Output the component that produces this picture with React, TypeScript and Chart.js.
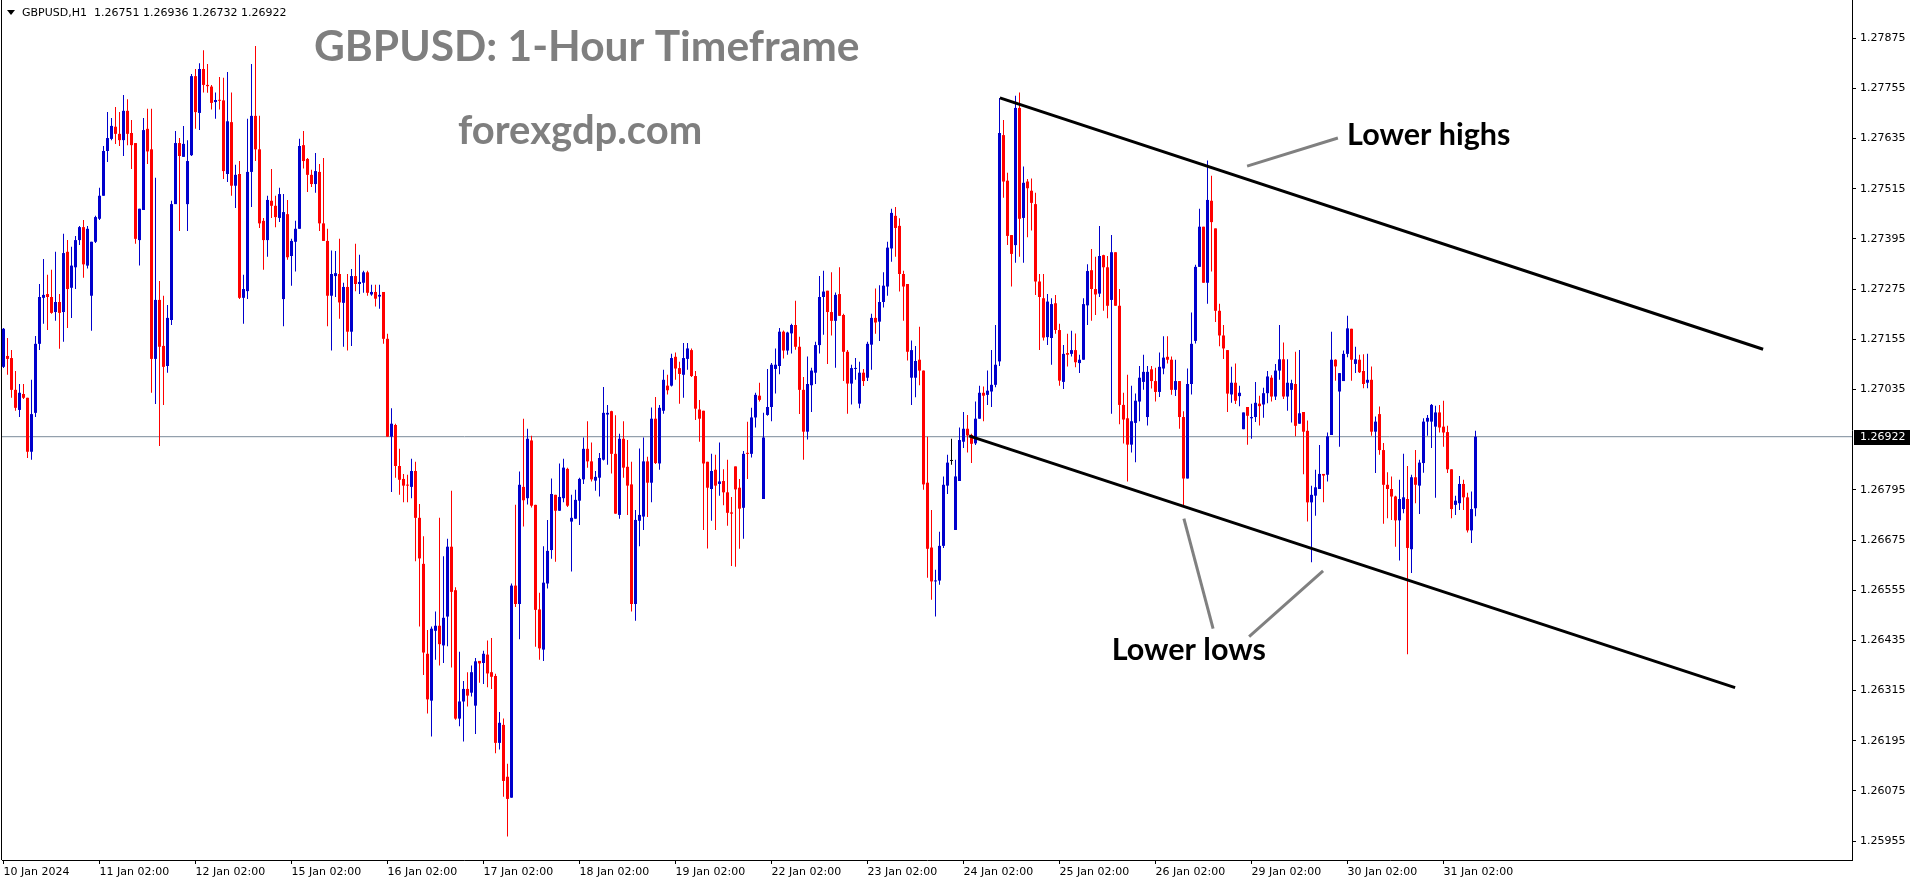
import React, { useEffect, useRef } from "react";
import { Chart, registerables } from "chart.js";

Chart.register(...registerables);

// ---- H1 candles, 10 Jan 2024 02:00 .. 31 Jan 2024 10:00 (bar index 0..368) ----
const opens = [
  1.27089,1.27115,1.27110,1.27034,1.26986,1.27024,1.27015,1.26886,1.26979,1.27144,
  1.27254,1.27263,1.27256,1.27220,1.27244,1.27220,1.27364,1.27278,1.27327,1.27392,
  1.27423,1.27331,1.27259,1.27388,1.27443,1.27498,1.27605,1.27634,1.27663,1.27646,
  1.27631,1.27701,1.27648,1.27624,1.27392,1.27464,1.27658,1.27609,1.27108,1.27249,
  1.27139,1.27091,1.27201,1.27478,1.27624,1.27591,1.27478,1.27595,1.27784,1.27696,
  1.27801,1.27763,1.27759,1.27722,1.27727,1.27726,1.27550,1.27674,1.27522,1.27550,
  1.27254,1.27270,1.27555,1.27689,1.27609,1.27438,1.27392,1.27486,1.27474,1.27445,
  1.27251,1.27454,1.27354,1.27388,1.27419,1.27619,1.27586,1.27548,1.27526,1.27555,
  1.27432,1.27390,1.27259,1.27306,1.27311,1.27242,1.27280,1.27173,1.27306,1.27287,
  1.27290,1.27315,1.27262,1.27268,1.27257,1.27268,1.27156,1.26922,1.26950,1.26852,
  1.26821,1.26807,1.26802,1.26840,1.26728,1.26618,1.26403,1.26291,1.26458,1.26470,
  1.26423,1.26492,1.26659,1.26555,1.26248,1.26289,1.26319,1.26310,1.26279,1.26386,
  1.26381,1.26401,1.26359,1.26350,1.26190,1.26233,1.26109,1.26059,1.26566,1.26522,
  1.26802,1.26775,1.26913,1.26759,1.26509,1.26413,1.26571,1.26651,1.26783,1.26745,
  1.26775,1.26845,1.26719,1.26726,1.26769,1.26820,1.26893,1.26863,1.26817,1.26824,
  1.26867,1.26975,1.26983,1.26881,1.26735,1.26917,1.26850,1.26808,1.26522,1.26721,
  1.26731,1.26863,1.26812,1.26965,1.26858,1.26984,1.27044,1.27044,1.27113,1.27086,
  1.27070,1.27108,1.27129,1.27067,1.26987,1.26984,1.26862,1.26797,1.26843,1.26809,
  1.26816,1.26789,1.26741,1.26851,1.26800,1.26752,1.26883,1.26881,1.26968,1.27020,
  1.26773,1.26974,1.26993,1.27084,1.27091,1.27173,1.27128,1.27169,1.27189,1.27137,
  1.27034,1.26934,1.27045,1.27075,1.27141,1.27256,1.27271,1.27220,1.27199,1.27263,
  1.27213,1.27125,1.27049,1.27084,1.27001,1.27075,1.27063,1.27142,1.27206,1.27197,
  1.27244,1.27281,1.27372,1.27450,1.27426,1.27311,1.27287,1.27063,1.27063,1.27106,
  1.27080,1.26812,1.26657,1.26576,1.26578,1.26661,1.26805,1.26864,1.26699,1.26816,
  1.26910,1.26941,1.26926,1.26906,1.26965,1.27027,1.27022,1.27030,1.27046,1.27102,
  1.27643,1.27534,1.27404,1.27380,1.27708,1.27445,1.27532,1.27510,1.27478,1.27293,
  1.27253,1.27160,1.27158,1.27241,1.27177,1.27053,1.27122,1.27120,1.27129,1.27098,
  1.27106,1.27236,1.27320,1.27275,1.27264,1.27356,1.27327,1.27249,1.27363,1.27235,
  1.26998,1.26966,1.26903,1.26955,1.27006,1.27053,1.26969,1.27083,1.27055,1.27029,
  1.27085,1.27113,1.27106,1.27034,1.27055,1.26969,1.26822,1.27048,1.27151,1.27328,
  1.27424,1.27290,1.27486,1.27420,1.27223,1.27164,1.27129,1.27023,1.27051,1.27019,
  1.26940,1.26993,1.26966,1.26969,1.27001,1.26999,1.27026,1.27063,1.27018,1.27080,
  1.27107,1.27018,1.27034,1.27048,1.26953,1.26981,1.26936,1.26765,1.26781,1.26797,
  1.26833,1.26831,1.26926,1.27106,1.27030,1.27055,1.27120,1.27180,1.27096,1.27106,
  1.27079,1.27051,1.27058,1.26934,1.26976,1.26890,1.26807,1.26797,1.26779,1.26722,
  1.26749,1.26773,1.26653,1.26825,1.26805,1.26859,1.26958,1.26958,1.26946,1.26980,
  1.26946,1.26933,1.26844,1.26759,1.26763,1.26809,1.26777,1.26698,1.26751,
];

const highs = [
  1.27182,1.27158,1.27129,1.27079,1.27048,1.27048,1.27015,1.27058,1.27163,1.27287,
  1.27347,1.27309,1.27321,1.27364,1.27263,1.27407,1.27392,1.27376,1.27402,1.27426,
  1.27440,1.27426,1.27388,1.27450,1.27517,1.27617,1.27698,1.27684,1.27710,1.27698,
  1.27739,1.27729,1.27679,1.27624,1.27467,1.27684,1.27706,1.27706,1.27541,1.27294,
  1.27259,1.27237,1.27486,1.27653,1.27636,1.27665,1.27631,1.27789,1.27801,1.27815,
  1.27846,1.27813,1.27763,1.27745,1.27782,1.27780,1.27794,1.27745,1.27572,1.27581,
  1.27309,1.27682,1.27813,1.27856,1.27689,1.27445,1.27498,1.27562,1.27498,1.27517,
  1.27502,1.27488,1.27395,1.27438,1.27634,1.27653,1.27588,1.27560,1.27600,1.27574,
  1.27588,1.27419,1.27367,1.27366,1.27395,1.27290,1.27311,1.27323,1.27383,1.27357,
  1.27319,1.27319,1.27285,1.27285,1.27285,1.27268,1.27168,1.26990,1.26953,1.26893,
  1.26833,1.26831,1.26869,1.26862,1.26761,1.26684,1.26460,1.26468,1.26504,1.26728,
  1.26636,1.26678,1.26793,1.26562,1.26408,1.26338,1.26359,1.26375,1.26393,1.26386,
  1.26410,1.26435,1.26441,1.26355,1.26264,1.26248,1.26140,1.26571,1.26759,1.26839,
  1.26965,1.26941,1.26924,1.26759,1.26549,1.26660,1.26723,1.26822,1.26783,1.26858,
  1.26869,1.26848,1.26783,1.26795,1.26824,1.26920,1.26959,1.26908,1.26840,1.26883,
  1.27041,1.26998,1.26984,1.26973,1.26929,1.26959,1.26914,1.26862,1.26747,1.26894,
  1.26920,1.26874,1.26992,1.27017,1.26998,1.27082,1.27070,1.27120,1.27123,1.27101,
  1.27146,1.27146,1.27133,1.27079,1.27010,1.26984,1.26862,1.26881,1.26879,1.26908,
  1.26844,1.26867,1.26778,1.26851,1.26821,1.26888,1.26958,1.26991,1.27027,1.27051,
  1.26979,1.27084,1.27098,1.27133,1.27182,1.27176,1.27173,1.27192,1.27247,1.27161,
  1.27065,1.27114,1.27087,1.27149,1.27306,1.27319,1.27271,1.27315,1.27267,1.27327,
  1.27216,1.27129,1.27094,1.27110,1.27101,1.27084,1.27149,1.27216,1.27276,1.27284,
  1.27315,1.27388,1.27467,1.27471,1.27444,1.27319,1.27287,1.27152,1.27139,1.27185,
  1.27080,1.26922,1.26747,1.26604,1.26695,1.26827,1.26879,1.26917,1.26867,1.26944,
  1.26981,1.26974,1.26929,1.27006,1.27044,1.27042,1.27080,1.27129,1.27189,1.27732,
  1.27679,1.27553,1.27404,1.27737,1.27745,1.27568,1.27538,1.27539,1.27505,1.27311,
  1.27311,1.27263,1.27253,1.27261,1.27192,1.27141,1.27168,1.27175,1.27169,1.27118,
  1.27253,1.27334,1.27371,1.27352,1.27426,1.27357,1.27354,1.27404,1.27363,1.27275,
  1.27027,1.27070,1.27044,1.27025,1.27091,1.27118,1.27091,1.27091,1.27087,1.27123,
  1.27162,1.27162,1.27114,1.27106,1.27055,1.26983,1.27085,1.27219,1.27333,1.27467,
  1.27424,1.27582,1.27546,1.27420,1.27240,1.27189,1.27129,1.27089,1.27097,1.27044,
  1.26980,1.26993,1.27001,1.27053,1.27020,1.27039,1.27079,1.27069,1.27096,1.27189,
  1.27147,1.27107,1.27058,1.27125,1.27129,1.26981,1.26961,1.26805,1.26843,1.26902,
  1.26833,1.26932,1.27173,1.27107,1.27074,1.27128,1.27211,1.27180,1.27137,1.27118,
  1.27119,1.27120,1.27090,1.26970,1.26994,1.26907,1.26837,1.26827,1.26781,1.26819,
  1.26881,1.26852,1.26831,1.26890,1.26867,1.26966,1.26974,1.27000,1.26996,1.26998,
  1.27008,1.26948,1.26844,1.26781,1.26828,1.26819,1.26788,1.26791,1.26936,
];

const lows = [
  1.27086,1.27070,1.27015,1.26984,1.26969,1.27012,1.26871,1.26867,1.26969,1.27129,
  1.27192,1.27177,1.27216,1.27199,1.27132,1.27149,1.27182,1.27206,1.27275,1.27380,
  1.27302,1.27324,1.27175,1.27385,1.27440,1.27498,1.27579,1.27631,1.27622,1.27617,
  1.27593,1.27619,1.27562,1.27383,1.27331,1.27464,1.27574,1.27027,1.27000,1.26900,
  1.26998,1.27075,1.27189,1.27478,1.27414,1.27591,1.27414,1.27593,1.27658,1.27655,
  1.27745,1.27744,1.27704,1.27682,1.27704,1.27538,1.27531,1.27498,1.27469,1.27251,
  1.27192,1.27251,1.27471,1.27581,1.27421,1.27321,1.27352,1.27445,1.27423,1.27435,
  1.27186,1.27345,1.27283,1.27317,1.27419,1.27563,1.27507,1.27519,1.27505,1.27414,
  1.27390,1.27186,1.27128,1.27256,1.27204,1.27137,1.27128,1.27139,1.27270,1.27263,
  1.27266,1.27259,1.27259,1.27233,1.27228,1.27144,1.26922,1.26790,1.26824,1.26783,
  1.26765,1.26765,1.26775,1.26624,1.26468,1.26352,1.26260,1.26205,1.26389,1.26375,
  1.26381,1.26421,1.26370,1.26245,1.26230,1.26193,1.26277,1.26301,1.26211,1.26334,
  1.26331,1.26323,1.26319,1.26165,1.26174,1.26061,1.25966,1.26059,1.26515,1.26438,
  1.26707,1.26760,1.26753,1.26420,1.26389,1.26386,1.26559,1.26630,1.26623,1.26745,
  1.26765,1.26754,1.26600,1.26726,1.26711,1.26809,1.26848,1.26815,1.26793,1.26779,
  1.26865,1.26855,1.26834,1.26738,1.26726,1.26824,1.26735,1.26504,1.26482,1.26660,
  1.26699,1.26730,1.26765,1.26857,1.26843,1.26977,1.27023,1.27042,1.27058,1.27001,
  1.27015,1.27082,1.27065,1.26962,1.26910,1.26699,1.26655,1.26721,1.26699,1.26781,
  1.26758,1.26709,1.26613,1.26611,1.26654,1.26678,1.26821,1.26872,1.26944,1.27006,
  1.26773,1.26972,1.26959,1.27025,1.27071,1.27109,1.27118,1.27121,1.27130,1.26976,
  1.26867,1.26915,1.26981,1.27048,1.27121,1.27166,1.27096,1.27164,1.27087,1.27211,
  1.27055,1.26977,1.26999,1.27058,1.26990,1.27043,1.27055,1.27082,1.27168,1.27151,
  1.27231,1.27259,1.27340,1.27352,1.27269,1.27199,1.27104,1.26998,1.27016,1.27045,
  1.26795,1.26585,1.26532,1.26492,1.26568,1.26656,1.26785,1.26855,1.26699,1.26816,
  1.26895,1.26884,1.26859,1.26902,1.26965,1.26959,1.26998,1.26993,1.27040,1.27091,
  1.27493,1.27380,1.27281,1.27338,1.27352,1.27338,1.27399,1.27415,1.27261,1.27129,
  1.27152,1.27141,1.27094,1.27168,1.27044,1.27036,1.27090,1.27114,1.27088,1.27074,
  1.27106,1.27189,1.27199,1.27213,1.27256,1.27223,1.27205,1.26977,1.27235,1.26952,
  1.26906,1.26815,1.26884,1.26861,1.26959,1.27034,1.26949,1.27037,1.27006,1.27017,
  1.27071,1.27097,1.27022,1.27019,1.26941,1.26754,1.26822,1.27023,1.27145,1.27328,
  1.27290,1.27240,1.27317,1.27196,1.27138,1.27108,1.26981,1.27003,1.27000,1.26995,
  1.26940,1.26903,1.26917,1.26957,1.26949,1.26967,1.27002,1.27006,1.27010,1.27058,
  1.27012,1.26984,1.26956,1.26923,1.26953,1.26832,1.26719,1.26622,1.26733,1.26797,
  1.26765,1.26815,1.26926,1.27056,1.26898,1.27055,1.27112,1.27056,1.27074,1.27074,
  1.27038,1.27038,1.26924,1.26835,1.26879,1.26714,1.26727,1.26723,1.26659,1.26626,
  1.26739,1.26402,1.26596,1.26763,1.26737,1.26836,1.26924,1.26895,1.26776,1.26932,
  1.26898,1.26835,1.26727,1.26735,1.26747,1.26747,1.26693,1.26668,1.26732,
];

const closes = [
  1.27180,1.27108,1.27034,1.26991,1.27027,1.27015,1.26886,1.26976,1.27144,1.27256,
  1.27261,1.27256,1.27218,1.27244,1.27218,1.27361,1.27275,1.27331,1.27392,1.27423,
  1.27334,1.27419,1.27388,1.27447,1.27498,1.27605,1.27636,1.27665,1.27646,1.27631,
  1.27701,1.27646,1.27619,1.27395,1.27467,1.27655,1.27604,1.27108,1.27249,1.27137,
  1.27089,1.27206,1.27478,1.27624,1.27593,1.27622,1.27581,1.27784,1.27698,1.27801,
  1.27763,1.27760,1.27720,1.27727,1.27725,1.27557,1.27676,1.27522,1.27548,1.27254,
  1.27275,1.27555,1.27689,1.27609,1.27432,1.27392,1.27488,1.27474,1.27447,1.27502,
  1.27459,1.27351,1.27390,1.27419,1.27617,1.27581,1.27548,1.27526,1.27557,1.27432,
  1.27390,1.27259,1.27311,1.27313,1.27243,1.27280,1.27173,1.27306,1.27287,1.27292,
  1.27315,1.27266,1.27268,1.27252,1.27261,1.27156,1.26922,1.26953,1.26852,1.26819,
  1.26805,1.26805,1.26840,1.26728,1.26631,1.26406,1.26294,1.26463,1.26470,1.26426,
  1.26489,1.26659,1.26551,1.26248,1.26289,1.26319,1.26303,1.26359,1.26385,1.26380,
  1.26403,1.26356,1.26348,1.26190,1.26238,1.26099,1.26056,1.26566,1.26522,1.26807,
  1.26770,1.26917,1.26757,1.26508,1.26416,1.26573,1.26649,1.26785,1.26745,1.26778,
  1.26848,1.26757,1.26728,1.26771,1.26821,1.26893,1.26863,1.26820,1.26826,1.26871,
  1.26979,1.26979,1.26881,1.26738,1.26917,1.26848,1.26805,1.26522,1.26723,1.26735,
  1.26863,1.26812,1.26965,1.26859,1.26991,1.27058,1.27033,1.27110,1.27085,1.27072,
  1.27110,1.27133,1.27067,1.26989,1.26965,1.26858,1.26800,1.26840,1.26805,1.26815,
  1.26789,1.26740,1.26738,1.26796,1.26750,1.26881,1.26881,1.26968,1.27022,1.27010,
  1.26920,1.26993,1.27094,1.27094,1.27173,1.27128,1.27171,1.27189,1.27137,1.27034,
  1.26934,1.27048,1.27080,1.27141,1.27256,1.27269,1.27220,1.27199,1.27261,1.27211,
  1.27125,1.27049,1.27086,1.27086,1.27075,1.27055,1.27144,1.27206,1.27195,1.27244,
  1.27283,1.27374,1.27457,1.27421,1.27311,1.27281,1.27125,1.27129,1.27103,1.27080,
  1.26808,1.26654,1.26576,1.26578,1.26661,1.26807,1.26860,1.26864,1.26827,1.26914,
  1.26941,1.26925,1.26905,1.26965,1.27027,1.27020,1.27032,1.27046,1.27094,1.27648,
  1.27532,1.27402,1.27359,1.27708,1.27443,1.27529,1.27516,1.27481,1.27293,1.27256,
  1.27159,1.27245,1.27239,1.27177,1.27056,1.27120,1.27118,1.27129,1.27100,1.27106,
  1.27239,1.27318,1.27275,1.27262,1.27354,1.27327,1.27235,1.27363,1.27235,1.26998,
  1.26963,1.26903,1.26959,1.27008,1.27063,1.27077,1.27077,1.27055,1.27029,1.27089,
  1.27111,1.27106,1.27034,1.27055,1.26969,1.26822,1.27048,1.27144,1.27328,1.27424,
  1.27290,1.27488,1.27435,1.27223,1.27164,1.27133,1.27025,1.27051,1.27008,1.27027,
  1.26980,1.26972,1.26969,1.27003,1.26995,1.27026,1.27066,1.27018,1.27080,1.27107,
  1.27018,1.27051,1.27050,1.26948,1.26978,1.26934,1.26765,1.26783,1.26801,1.26833,
  1.26829,1.26923,1.27106,1.27090,1.27074,1.27120,1.27181,1.27106,1.27107,1.27076,
  1.27048,1.27058,1.26934,1.26958,1.26890,1.26807,1.26797,1.26779,1.26722,1.26773,
  1.26777,1.26656,1.26825,1.26807,1.26860,1.26958,1.26967,1.26998,1.26980,1.26944,
  1.26932,1.26844,1.26749,1.26769,1.26809,1.26777,1.26698,1.26749,1.26922,
];

// ---- axes ----
const xTickIndex = [0, 24, 48, 72, 96, 120, 144, 168, 192, 216, 240, 264, 288, 312, 336, 360];
const xTickLabels = [
  "10 Jan 2024", "11 Jan 02:00", "12 Jan 02:00", "15 Jan 02:00", "16 Jan 02:00", "17 Jan 02:00",
  "18 Jan 02:00", "19 Jan 02:00", "22 Jan 02:00", "23 Jan 02:00", "24 Jan 02:00", "25 Jan 02:00",
  "26 Jan 02:00", "29 Jan 02:00", "30 Jan 02:00", "31 Jan 02:00",
];
const yTickValues = [
  1.25955, 1.26075, 1.26195, 1.26315, 1.26435, 1.26555, 1.26675, 1.26795,
  1.27035, 1.27155, 1.27275, 1.27395, 1.27515, 1.27635, 1.27755, 1.27875,
];
const lastPrice = 1.26922;
const headerText = "GBPUSD,H1  1.26751 1.26936 1.26732 1.26922";

// ---- drawn annotations (bar index, price) ----
const channelUpper = [{ x: 249.1, y: 1.27732 }, { x: 439.9, y: 1.27131 }];
const channelLower = [{ x: 241.4, y: 1.26924 }, { x: 432.9, y: 1.26322 }];
const pointerHighs = [{ x: 310.9, y: 1.27569 }, { x: 333.6, y: 1.27636 }];
const pointerLows1 = [{ x: 295.1, y: 1.26726 }, { x: 302.4, y: 1.26463 }];
const pointerLows2 = [{ x: 311.4, y: 1.26444 }, { x: 329.9, y: 1.26601 }];
const labelHighs = { text: "Lower highs", x: 335.9, y: 1.27619 };
const labelLows = { text: "Lower lows", x: 277.05, y: 1.26389 };
const titleText = "GBPUSD: 1-Hour Timeframe";
const siteText = "forexgdp.com";

const X_MIN = -0.375;
const X_MAX = 462.125;
const Y_MIN = 1.2591;
const Y_MAX = 1.27966;
const BLUE = "#0000CC";
const RED = "#FF0000";
const SMALL_FONT = "DejaVu Sans";

const overlayPlugin = {
  id: "overlay",
  afterDraw(chart: any) {
    const { ctx, chartArea, scales } = chart;
    const xs = scales.x;
    const ys = scales.y;
    ctx.save();
    // left frame line
    ctx.strokeStyle = "#000";
    ctx.lineWidth = 1;
    ctx.beginPath();
    ctx.moveTo(chartArea.left - 0.5, 0);
    ctx.lineTo(chartArea.left - 0.5, chartArea.bottom);
    ctx.stroke();

    // header
    ctx.fillStyle = "#000";
    ctx.beginPath();
    ctx.moveTo(7, 10);
    ctx.lineTo(15, 10);
    ctx.lineTo(11, 15);
    ctx.closePath();
    ctx.fill();
    ctx.font = `11px "${SMALL_FONT}"`;
    ctx.textBaseline = "middle";
    ctx.textAlign = "left";
    ctx.fillText(headerText, 22, 13);

    // title + site
    ctx.fillStyle = "#7f7f7f";
    ctx.textBaseline = "alphabetic";
    ctx.font = "bold 42.5px Lato";
    ctx.fillText(titleText, 314, 61);
    ctx.font = "bold 40px Lato";
    ctx.fillText(siteText, 458, 144);

    // annotation labels
    ctx.fillStyle = "#000";
    ctx.font = "bold 30.5px Lato";
    ctx.fillText(labelHighs.text, xs.getPixelForValue(labelHighs.x), ys.getPixelForValue(labelHighs.y));
    ctx.fillText(labelLows.text, xs.getPixelForValue(labelLows.x), ys.getPixelForValue(labelLows.y));

    // last price tag
    const py = Math.round(ys.getPixelForValue(lastPrice));
    ctx.fillStyle = "#000";
    ctx.fillRect(chartArea.right + 2, py - 7, 56, 15);
    ctx.fillStyle = "#fff";
    ctx.font = `11px "${SMALL_FONT}"`;
    ctx.textBaseline = "middle";
    ctx.fillText(lastPrice.toFixed(5), chartArea.right + 8, py + 0.5);
    ctx.restore();
  },
};

export default function App() {
  const ref = useRef<HTMLCanvasElement>(null);

  useEffect(() => {
    const canvas = ref.current;
    if (!canvas) return;
    const colors = closes.map((c, i) => (c > opens[i] ? BLUE : c < opens[i] ? RED : "#000000"));
    const bodies = opens.map((o, i) => ({ x: i, y: [o, closes[i]] }));
    const wicks = opens.map((o, i) => ({
      x: i,
      y: [Math.min(lows[i], o, closes[i]), Math.max(highs[i], o, closes[i])],
    }));
    const line = (pts: any[], color: string, width: number, order: number) => ({
      type: "line",
      data: pts,
      borderColor: color,
      borderWidth: width,
      pointRadius: 0,
      fill: false,
      tension: 0,
      order,
    });

    const chart = new Chart(canvas, {
      type: "bar",
      data: {
        datasets: [
          {
            type: "bar",
            data: bodies,
            backgroundColor: colors,
            borderWidth: 0,
            barThickness: 3,
            grouped: false,
            minBarLength: 1,
            inflateAmount: 0,
            order: 1,
          } as any,
          {
            type: "bar",
            data: wicks,
            backgroundColor: colors,
            borderWidth: 0,
            barThickness: 1,
            grouped: false,
            inflateAmount: 0,
            order: 2,
          } as any,
          line([{ x: X_MIN, y: lastPrice }, { x: X_MAX, y: lastPrice }], "#7a8a99", 1, 3) as any,
          line(channelUpper, "#000000", 3, 0) as any,
          line(channelLower, "#000000", 3, 0) as any,
          line(pointerHighs, "#808080", 3, 0) as any,
          line(pointerLows1, "#808080", 3, 0) as any,
          line(pointerLows2, "#808080", 3, 0) as any,
        ],
      },
      options: {
        responsive: false,
        animation: false,
        devicePixelRatio: 1,
        events: [],
        layout: { padding: { left: 2, right: 0, top: 0, bottom: 0 } },
        plugins: { legend: { display: false }, tooltip: { enabled: false } },
        scales: {
          x: {
            type: "linear",
            min: X_MIN,
            max: X_MAX,
            offset: false,
            grid: { display: true, drawOnChartArea: false, drawTicks: true, tickLength: 4, tickColor: "#000", offset: false },
            border: { display: true, color: "#000", width: 1 },
            ticks: {
              autoSkip: false,
              maxRotation: 0,
              minRotation: 0,
              align: "start",
              padding: 2,
              color: "#000",
              font: { family: SMALL_FONT, size: 11 },
              callback: (_v: any, idx: number) => xTickLabels[idx] ?? "",
            },
            afterBuildTicks: (s: any) => {
              s.ticks = xTickIndex.map((v) => ({ value: v }));
            },
            afterFit: (s: any) => {
              s.height = 24;
              s.paddingLeft = 0;
              s.paddingRight = 0;
            },
          },
          y: {
            type: "linear",
            position: "right",
            min: Y_MIN,
            max: Y_MAX,
            beginAtZero: false,
            grid: { display: true, drawOnChartArea: false, drawTicks: true, tickLength: 4, tickColor: "#000" },
            border: { display: true, color: "#000", width: 1 },
            ticks: {
              padding: 4,
              color: "#000",
              font: { family: SMALL_FONT, size: 11 },
              callback: (v: any) => Number(v).toFixed(5),
            },
            afterBuildTicks: (s: any) => {
              s.ticks = yTickValues.map((v) => ({ value: v }));
            },
            afterFit: (s: any) => {
              s.width = 64;
              s.paddingTop = 0;
              s.paddingBottom = 0;
            },
          },
        },
      } as any,
      plugins: [overlayPlugin],
    });
    return () => chart.destroy();
  }, []);

  return (
    <div style={{ position: "absolute", left: 0, top: 0, width: 1916, height: 884, background: "#fff" }}>
      <canvas ref={ref} width={1916} height={884} style={{ display: "block", width: 1916, height: 884 }} />
    </div>
  );
}
